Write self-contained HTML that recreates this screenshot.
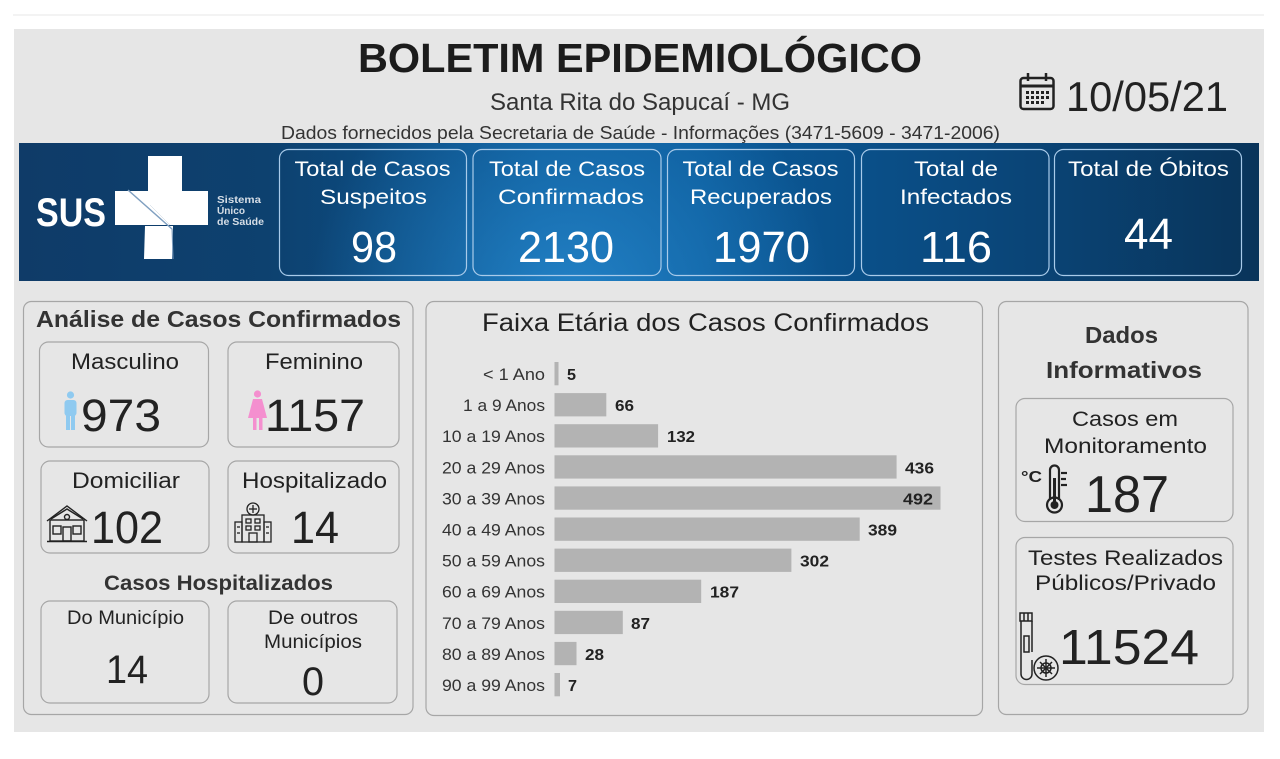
<!DOCTYPE html>
<html><head><meta charset="utf-8"><style>
html,body{margin:0;padding:0;background:#fff;width:1280px;height:759px;overflow:hidden}
svg{display:block}
text{font-family:"Liberation Sans",sans-serif}
</style></head><body>
<svg width="1280" height="759" viewBox="0 0 1280 759" xmlns="http://www.w3.org/2000/svg">
<defs>
<linearGradient id="band" x1="0" y1="0" x2="1" y2="0">
<stop offset="0" stop-color="#0f3b68"/>
<stop offset="0.2" stop-color="#0d416f"/>
<stop offset="0.42" stop-color="#0b5794"/>
<stop offset="0.55" stop-color="#0b5a99"/>
<stop offset="0.75" stop-color="#0a4a80"/>
<stop offset="1" stop-color="#09345a"/>
</linearGradient>
<radialGradient id="glow" cx="570" cy="300" r="260" gradientUnits="userSpaceOnUse">
<stop offset="0" stop-color="#2a8fd6" stop-opacity="0.75"/>
<stop offset="1" stop-color="#2a8fd6" stop-opacity="0"/>
</radialGradient>
</defs>
<rect x="13" y="14" width="1251" height="2" fill="#f3f3f3"/>
<rect x="14" y="29" width="1250" height="703" fill="#e6e6e6"/>

<!-- header -->
<text x="358" y="72" font-size="41" font-weight="bold" fill="#1c1c1c" textLength="564" lengthAdjust="spacingAndGlyphs">BOLETIM EPIDEMIOLÓGICO</text>
<text x="490" y="110" font-size="24" fill="#333" textLength="300" lengthAdjust="spacingAndGlyphs">Santa Rita do Sapucaí - MG</text>
<text x="281" y="139" font-size="18" fill="#333" textLength="719" lengthAdjust="spacingAndGlyphs">Dados fornecidos pela Secretaria de Saúde - Informações (3471-5609 - 3471-2006)</text>
<!-- calendar -->
<g stroke="#222" fill="none">
<rect x="1020.5" y="78" width="33" height="31" rx="3" stroke-width="2.5"/>
<line x1="1021" y1="86" x2="1053" y2="86" stroke-width="3"/>
<line x1="1028" y1="73" x2="1028" y2="81" stroke-width="2.5"/>
<line x1="1046" y1="73" x2="1046" y2="81" stroke-width="2.5"/>
</g>
<g fill="#222">
<rect x="1026" y="91" width="3" height="3"/><rect x="1031" y="91" width="3" height="3"/><rect x="1036" y="91" width="3" height="3"/><rect x="1041" y="91" width="3" height="3"/><rect x="1046" y="91" width="3" height="3"/>
<rect x="1026" y="96" width="3" height="3"/><rect x="1031" y="96" width="3" height="3"/><rect x="1036" y="96" width="3" height="3"/><rect x="1041" y="96" width="3" height="3"/><rect x="1046" y="96" width="3" height="3"/>
<rect x="1026" y="101" width="3" height="3"/><rect x="1031" y="101" width="3" height="3"/><rect x="1036" y="101" width="3" height="3"/><rect x="1041" y="101" width="3" height="3"/>
</g>
<text x="1066" y="111" font-size="42" fill="#222" textLength="162" lengthAdjust="spacingAndGlyphs">10/05/21</text>

<!-- blue band -->
<rect x="19" y="143" width="1240" height="138" fill="url(#band)"/>
<rect x="19" y="143" width="1240" height="138" fill="url(#glow)"/>
<!-- SUS logo -->
<text x="36" y="226" font-size="40" font-weight="bold" fill="#fff" textLength="70" lengthAdjust="spacingAndGlyphs">SUS</text>
<g fill="#fff">
<rect x="148" y="156" width="34" height="36"/>
<polygon points="115,191 208,191 208,225 170,225 150,205 115,205"/>
<polygon points="115,205 150,205 170,225 115,225"/>
<polygon points="145,226 173,226 172,259 144,259"/>
</g>
<line x1="128" y1="190" x2="172" y2="229" stroke="#7f9fc0" stroke-width="1.5"/>
<line x1="172" y1="229" x2="173" y2="259" stroke="#7f9fc0" stroke-width="1"/>
<text x="217" y="203" font-size="10" font-weight="bold" fill="#d5dde6" textLength="44" lengthAdjust="spacingAndGlyphs">Sistema</text>
<text x="217" y="214" font-size="10" font-weight="bold" fill="#d5dde6" textLength="28" lengthAdjust="spacingAndGlyphs">Único</text>
<text x="217" y="225" font-size="10" font-weight="bold" fill="#d5dde6" textLength="47" lengthAdjust="spacingAndGlyphs">de Saúde</text>

<!-- blue boxes -->
<g fill="none" stroke="#a9cbea" stroke-width="1.2">
<rect x="279.5" y="149.5" width="187" height="126" rx="9"/>
<rect x="473" y="149.5" width="188" height="126" rx="9"/>
<rect x="667.5" y="149.5" width="187" height="126" rx="9"/>
<rect x="861.5" y="149.5" width="187.5" height="126" rx="9"/>
<rect x="1054.5" y="149.5" width="187" height="126" rx="9"/>
</g>
<g fill="#fff" font-size="21">
<text x="294.5" y="176" textLength="156" lengthAdjust="spacingAndGlyphs">Total de Casos</text>
<text x="320" y="204" textLength="107" lengthAdjust="spacingAndGlyphs">Suspeitos</text>
<text x="351" y="262" font-size="44" textLength="46" lengthAdjust="spacingAndGlyphs">98</text>

<text x="489" y="176" textLength="156" lengthAdjust="spacingAndGlyphs">Total de Casos</text>
<text x="498" y="204" textLength="146" lengthAdjust="spacingAndGlyphs">Confirmados</text>
<text x="518" y="262" font-size="44" textLength="96" lengthAdjust="spacingAndGlyphs">2130</text>

<text x="682.5" y="176" textLength="156" lengthAdjust="spacingAndGlyphs">Total de Casos</text>
<text x="690" y="204" textLength="142" lengthAdjust="spacingAndGlyphs">Recuperados</text>
<text x="713" y="262" font-size="44" textLength="97" lengthAdjust="spacingAndGlyphs">1970</text>

<text x="914" y="176" textLength="84" lengthAdjust="spacingAndGlyphs">Total de</text>
<text x="900" y="204" textLength="112" lengthAdjust="spacingAndGlyphs">Infectados</text>
<text x="920" y="262" font-size="44" textLength="72" lengthAdjust="spacingAndGlyphs">116</text>

<text x="1068" y="176" textLength="161" lengthAdjust="spacingAndGlyphs">Total de Óbitos</text>
<text x="1124" y="249" font-size="44" textLength="49" lengthAdjust="spacingAndGlyphs">44</text>
</g>

<!-- lower panels -->
<g fill="none" stroke="#a6a6a6" stroke-width="1.2">
<rect x="23.5" y="301.5" width="389.5" height="413" rx="8"/>
<rect x="426" y="301.5" width="556.5" height="414" rx="8"/>
<rect x="998.5" y="301.5" width="249.5" height="413" rx="8"/>
<rect x="39.5" y="342" width="169" height="105" rx="9"/>
<rect x="228" y="342" width="171" height="105" rx="9"/>
<rect x="41" y="461" width="168" height="92" rx="9"/>
<rect x="228" y="461" width="171" height="92" rx="9"/>
<rect x="41" y="601" width="168" height="102" rx="9"/>
<rect x="228" y="601" width="169" height="102" rx="9"/>
<rect x="1016" y="398.5" width="217" height="123" rx="9"/>
<rect x="1016" y="537.5" width="217" height="147" rx="9"/>
</g>

<!-- left panel text -->
<text x="36" y="327" font-size="23" font-weight="bold" fill="#333" textLength="365" lengthAdjust="spacingAndGlyphs">Análise de Casos Confirmados</text>
<g fill="#222" font-size="22">
<text x="71" y="369" textLength="108" lengthAdjust="spacingAndGlyphs">Masculino</text>
<text x="265" y="369" textLength="98" lengthAdjust="spacingAndGlyphs">Feminino</text>
<text x="81" y="431" font-size="45" textLength="80" lengthAdjust="spacingAndGlyphs">973</text>
<text x="265" y="431" font-size="45" textLength="100" lengthAdjust="spacingAndGlyphs">1157</text>
<text x="72" y="488" textLength="108" lengthAdjust="spacingAndGlyphs">Domiciliar</text>
<text x="242" y="488" textLength="145" lengthAdjust="spacingAndGlyphs">Hospitalizado</text>
<text x="91" y="543" font-size="45" textLength="72" lengthAdjust="spacingAndGlyphs">102</text>
<text x="291" y="543" font-size="45" textLength="48" lengthAdjust="spacingAndGlyphs">14</text>
</g>
<text x="104" y="590" font-size="21" font-weight="bold" fill="#333" textLength="229" lengthAdjust="spacingAndGlyphs">Casos Hospitalizados</text>
<g fill="#222" font-size="19">
<text x="67" y="624" textLength="117" lengthAdjust="spacingAndGlyphs">Do Município</text>
<text x="268" y="624" textLength="90" lengthAdjust="spacingAndGlyphs">De outros</text>
<text x="264" y="648" textLength="98" lengthAdjust="spacingAndGlyphs">Municípios</text>
<text x="106" y="683" font-size="40" textLength="42" lengthAdjust="spacingAndGlyphs">14</text>
<text x="302" y="695" font-size="40" textLength="22" lengthAdjust="spacingAndGlyphs">0</text>
</g>
<!-- man icon -->
<g fill="#8fcaf0">
<circle cx="70.5" cy="395" r="3.6"/>
<rect x="64.5" y="400" width="12" height="16" rx="3"/>
<rect x="66" y="414" width="4" height="16"/>
<rect x="71" y="414" width="4" height="16"/>
</g>
<!-- woman icon -->
<g fill="#f48fcf">
<circle cx="257.5" cy="394" r="3.6"/>
<polygon points="253,399 262,399 267,418 248,418"/>
<rect x="253" y="417" width="3.5" height="13"/>
<rect x="259" y="417" width="3.5" height="13"/>
</g>
<!-- house icon -->
<g fill="none" stroke="#222" stroke-width="1.4">
<polyline points="47,521 67,506 87,521"/>
<polyline points="51,519 67,509 83,519"/>
<rect x="50" y="520" width="34" height="21"/>
<circle cx="67" cy="517" r="2.5"/>
<rect x="53" y="526" width="8" height="8"/>
<rect x="73" y="526" width="8" height="8"/>
<rect x="63" y="527" width="8" height="14"/>
<line x1="47" y1="541.5" x2="87" y2="541.5"/>
</g>
<!-- hospital icon -->
<g fill="none" stroke="#222" stroke-width="1.3">
<circle cx="253" cy="509" r="6"/>
<line x1="253" y1="505" x2="253" y2="513"/><line x1="249" y1="509" x2="257" y2="509"/>
<rect x="242" y="515" width="22" height="27"/>
<rect x="235" y="522" width="7" height="20"/>
<rect x="264" y="522" width="7" height="20"/>
<rect x="246" y="519" width="5" height="4"/><rect x="255" y="519" width="5" height="4"/>
<rect x="246" y="526" width="5" height="4"/><rect x="255" y="526" width="5" height="4"/>
<rect x="249" y="533" width="8" height="9"/>
<line x1="237" y1="527" x2="240" y2="527"/><line x1="237" y1="533" x2="240" y2="533"/>
<line x1="266" y1="527" x2="269" y2="527"/><line x1="266" y1="533" x2="269" y2="533"/>
</g>

<!-- middle chart -->
<text x="482" y="331" font-size="25" fill="#222" textLength="447" lengthAdjust="spacingAndGlyphs">Faixa Etária dos Casos Confirmados</text>
<g fill="#b3b3b3">
<rect x="554.5" y="362" width="4" height="23.3"/>
<rect x="554.5" y="393.1" width="51.8" height="23.3"/>
<rect x="554.5" y="424.2" width="103.6" height="23.3"/>
<rect x="554.5" y="455.3" width="342.1" height="23.3"/>
<rect x="554.5" y="486.4" width="386" height="23.3"/>
<rect x="554.5" y="517.5" width="305.2" height="23.3"/>
<rect x="554.5" y="548.6" width="236.9" height="23.3"/>
<rect x="554.5" y="579.7" width="146.7" height="23.3"/>
<rect x="554.5" y="610.8" width="68.3" height="23.3"/>
<rect x="554.5" y="641.9" width="22" height="23.3"/>
<rect x="554.5" y="673" width="5.5" height="23.3"/>
</g>
<g fill="#333" font-size="17" text-anchor="end">
<text x="545" y="380" textLength="62" lengthAdjust="spacingAndGlyphs">&lt; 1 Ano</text>
<text x="545" y="411.1" textLength="82" lengthAdjust="spacingAndGlyphs">1 a 9 Anos</text>
<text x="545" y="442.2" textLength="103" lengthAdjust="spacingAndGlyphs">10 a 19 Anos</text>
<text x="545" y="473.3" textLength="103" lengthAdjust="spacingAndGlyphs">20 a 29 Anos</text>
<text x="545" y="504.4" textLength="103" lengthAdjust="spacingAndGlyphs">30 a 39 Anos</text>
<text x="545" y="535.5" textLength="103" lengthAdjust="spacingAndGlyphs">40 a 49 Anos</text>
<text x="545" y="566.6" textLength="103" lengthAdjust="spacingAndGlyphs">50 a 59 Anos</text>
<text x="545" y="597.7" textLength="103" lengthAdjust="spacingAndGlyphs">60 a 69 Anos</text>
<text x="545" y="628.8" textLength="103" lengthAdjust="spacingAndGlyphs">70 a 79 Anos</text>
<text x="545" y="659.9" textLength="103" lengthAdjust="spacingAndGlyphs">80 a 89 Anos</text>
<text x="545" y="691" textLength="103" lengthAdjust="spacingAndGlyphs">90 a 99 Anos</text>
</g>
<g fill="#222" font-size="16" font-weight="bold">
<text x="567" y="380" textLength="9" lengthAdjust="spacingAndGlyphs">5</text>
<text x="615" y="411.1" textLength="19" lengthAdjust="spacingAndGlyphs">66</text>
<text x="667" y="442.2" textLength="28" lengthAdjust="spacingAndGlyphs">132</text>
<text x="905" y="473.3" textLength="29" lengthAdjust="spacingAndGlyphs">436</text>
<text x="933" y="504.4" text-anchor="end" textLength="30" lengthAdjust="spacingAndGlyphs">492</text>
<text x="868" y="535.5" textLength="29" lengthAdjust="spacingAndGlyphs">389</text>
<text x="800" y="566.6" textLength="29" lengthAdjust="spacingAndGlyphs">302</text>
<text x="710" y="597.7" textLength="29" lengthAdjust="spacingAndGlyphs">187</text>
<text x="631" y="628.8" textLength="19" lengthAdjust="spacingAndGlyphs">87</text>
<text x="585" y="659.9" textLength="19" lengthAdjust="spacingAndGlyphs">28</text>
<text x="568" y="691" textLength="9" lengthAdjust="spacingAndGlyphs">7</text>
</g>

<!-- right panel -->
<text x="1085" y="343" font-size="23" font-weight="bold" fill="#333" textLength="73" lengthAdjust="spacingAndGlyphs">Dados</text>
<text x="1046" y="378" font-size="23" font-weight="bold" fill="#333" textLength="156" lengthAdjust="spacingAndGlyphs">Informativos</text>
<g fill="#222" font-size="21">
<text x="1072" y="426" textLength="106" lengthAdjust="spacingAndGlyphs">Casos em</text>
<text x="1044" y="453" textLength="163" lengthAdjust="spacingAndGlyphs">Monitoramento</text>
<text x="1085" y="512" font-size="52" textLength="84" lengthAdjust="spacingAndGlyphs">187</text>
<text x="1028" y="565" textLength="195" lengthAdjust="spacingAndGlyphs">Testes Realizados</text>
<text x="1035" y="590" textLength="181" lengthAdjust="spacingAndGlyphs">Públicos/Privado</text>
<text x="1059" y="664" font-size="49" textLength="140" lengthAdjust="spacingAndGlyphs">11524</text>
</g>
<!-- thermometer -->
<text x="1021" y="482" font-size="16" font-weight="bold" fill="#222" textLength="21" lengthAdjust="spacingAndGlyphs">°C</text>
<g fill="none" stroke="#222" stroke-width="2.2">
<path d="M1050,500 L1050,470 A4.5,4.5 0 0 1 1059,470 L1059,500"/>
<circle cx="1054.5" cy="505" r="7.5"/>
<line x1="1061" y1="473" x2="1067" y2="473"/>
<line x1="1061" y1="479" x2="1066" y2="479"/>
<line x1="1061" y1="485" x2="1067" y2="485"/>
</g>
<rect x="1053" y="478" width="3" height="24" fill="#222"/>
<circle cx="1054.5" cy="505" r="4" fill="#222"/>
<!-- test tube -->
<g fill="none" stroke="#222" stroke-width="1.5">
<rect x="1020" y="613" width="12" height="8"/>
<line x1="1024" y1="613" x2="1024" y2="621"/><line x1="1028" y1="613" x2="1028" y2="621"/>
<path d="M1021,621 L1021,674 A5.5,5.5 0 0 0 1032,674 L1032,660"/>
<line x1="1032" y1="621" x2="1032" y2="652"/>
<rect x="1024" y="636" width="5" height="16"/>
<circle cx="1046" cy="668" r="12"/>
<circle cx="1046" cy="668" r="5"/>
<line x1="1046" y1="659" x2="1046" y2="677"/>
<line x1="1037" y1="668" x2="1055" y2="668"/>
<line x1="1040" y1="662" x2="1052" y2="674"/>
<line x1="1052" y1="662" x2="1040" y2="674"/>
</g>
</svg>
</body></html>
